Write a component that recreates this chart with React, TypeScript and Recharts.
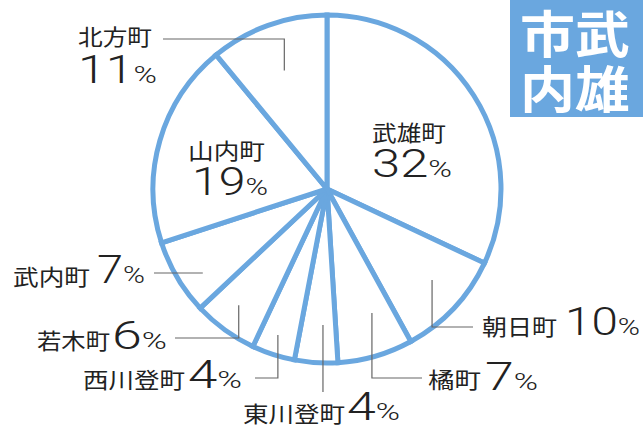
import { PieChart, Pie, Cell } from "recharts";

const towns = ["武雄町", "朝日町", "橘町", "東川登町", "西川登町", "若木町", "武内町", "山内町", "北方町"];
const shares = [32, 10, 7, 4, 4, 6, 7, 19, 11];
const badgeLines = ["市武", "内雄"];

const data = towns.map((name, i) => ({ name, value: shares[i] }));

const BLUE = "#6aa7df";
const CX = 327;
const CY = 189;
const R = 174;
const RAD = Math.PI / 180;
const JP = '"Noto Sans CJK JP", "Noto Sans", sans-serif';
const NUM = "Roboto, sans-serif";

// where each label sits: name box, value box, leader (radius / angle tweak / elbow)
type Place = {
  nx: number; nw: number; ny: number;
  vx: number; vw: number; vy: number;
  lr?: number; da?: number; ly?: number; lx?: number; flat?: boolean;
};
const places: Place[] = [
  { nx: 372, nw: 74, ny: 131, vx: 372, vw: 80, vy: 177 },
  { nx: 482, nw: 75, ny: 325, vx: 565, vw: 75, vy: 335, lr: 139, da: -2.3, ly: 327, lx: 473 },
  { nx: 428, nw: 53, ny: 378, vx: 485, vw: 53, vy: 390, lr: 132, da: -3.7, ly: 378, lx: 422 },
  { nx: 243, nw: 102, ny: 412, vx: 347, vw: 53, vy: 420, lr: 136, da: -1.9, ly: 392 },
  { nx: 83, nw: 102, ny: 378, vx: 188, vw: 54, vy: 388, lr: 154, da: 0.6, ly: 378, lx: 255 },
  { nx: 37, nw: 73, ny: 339, vx: 112, vw: 55, vy: 349, lr: 146, da: 1.2, ly: 338, lx: 175 },
  { nx: 13, nw: 77, ny: 275, vx: 97, vw: 48, vy: 283, lr: 150, da: -3.5, ly: 273, lx: 154, flat: true },
  { nx: 188, nw: 77, ny: 149, vx: 192, vw: 76, vy: 195 },
  { nx: 78, nw: 74, ny: 35, vx: 78, vw: 79, vy: 83, lr: 126, da: 0, ly: 39, lx: 163 },
];

function renderLabel(props: any) {
  const i = props.index;
  const p = places[i];
  const cx = props.cx ?? CX;
  const cy = props.cy ?? CY;
  let leader = null;
  if (p.lr) {
    // clockwise-from-top angle
    const th = (90 - props.midAngle + (p.da || 0)) * RAD;
    const ix = cx + p.lr * Math.sin(th);
    const iy = p.flat ? p.ly! : cy - p.lr * Math.cos(th);
    const pts = [[ix, iy], [ix, p.ly!]];
    if (p.lx !== undefined) pts.push([p.lx, p.ly!]);
    leader = (
      <polyline
        points={pts.map((q) => q.join(",")).join(" ")}
        fill="none"
        stroke="#666"
        strokeWidth={1.2}
      />
    );
  }
  return (
    <g key={`lab-${i}`}>
      {leader}
      <text
        x={p.nx}
        y={p.ny}
        dominantBaseline="central"
        fontFamily={JP}
        fontSize={22}
        fill="#222"
        textLength={p.nw}
        lengthAdjust="spacingAndGlyphs"
      >
        {towns[i]}
      </text>
      <text
        x={p.vx}
        y={p.vy}
        fontFamily={NUM}
        fontWeight={300}
        fill="#222"
        textLength={p.vw}
        lengthAdjust="spacingAndGlyphs"
      >
        <tspan fontSize={38}>{shares[i]}</tspan>
        <tspan fontSize={24}>%</tspan>
      </text>
    </g>
  );
}

export default function App() {
  return (
    <div style={{ position: "absolute", left: 0, top: 0, width: 643, height: 426, background: "#fff" }}>
      <PieChart width={643} height={426} margin={{ top: 0, right: 0, bottom: 0, left: 0 }}>
        <Pie
          data={data}
          dataKey="value"
          nameKey="name"
          cx={CX}
          cy={CY}
          innerRadius={0}
          outerRadius={R}
          startAngle={90}
          endAngle={-270}
          stroke={BLUE}
          strokeWidth={5}
          label={renderLabel}
          labelLine={false}
          isAnimationActive={false}
        >
          {data.map((d) => (
            <Cell key={d.name} fill="#fff" stroke={BLUE} strokeWidth={5} />
          ))}
        </Pie>
      </PieChart>
      <svg width={133} height={117} style={{ position: "absolute", left: 510, top: 0 }}>
        <rect x={0} y={0} width={133} height={117} fill={BLUE} />
        {badgeLines.map((line, k) => (
          <text
            key={line}
            x={10}
            y={31 + k * 55}
            dominantBaseline="central"
            fontFamily={JP}
            fontWeight={700}
            fontSize={50}
            fill="#fff"
            textLength={110}
            lengthAdjust="spacingAndGlyphs"
          >
            {line}
          </text>
        ))}
      </svg>
    </div>
  );
}
